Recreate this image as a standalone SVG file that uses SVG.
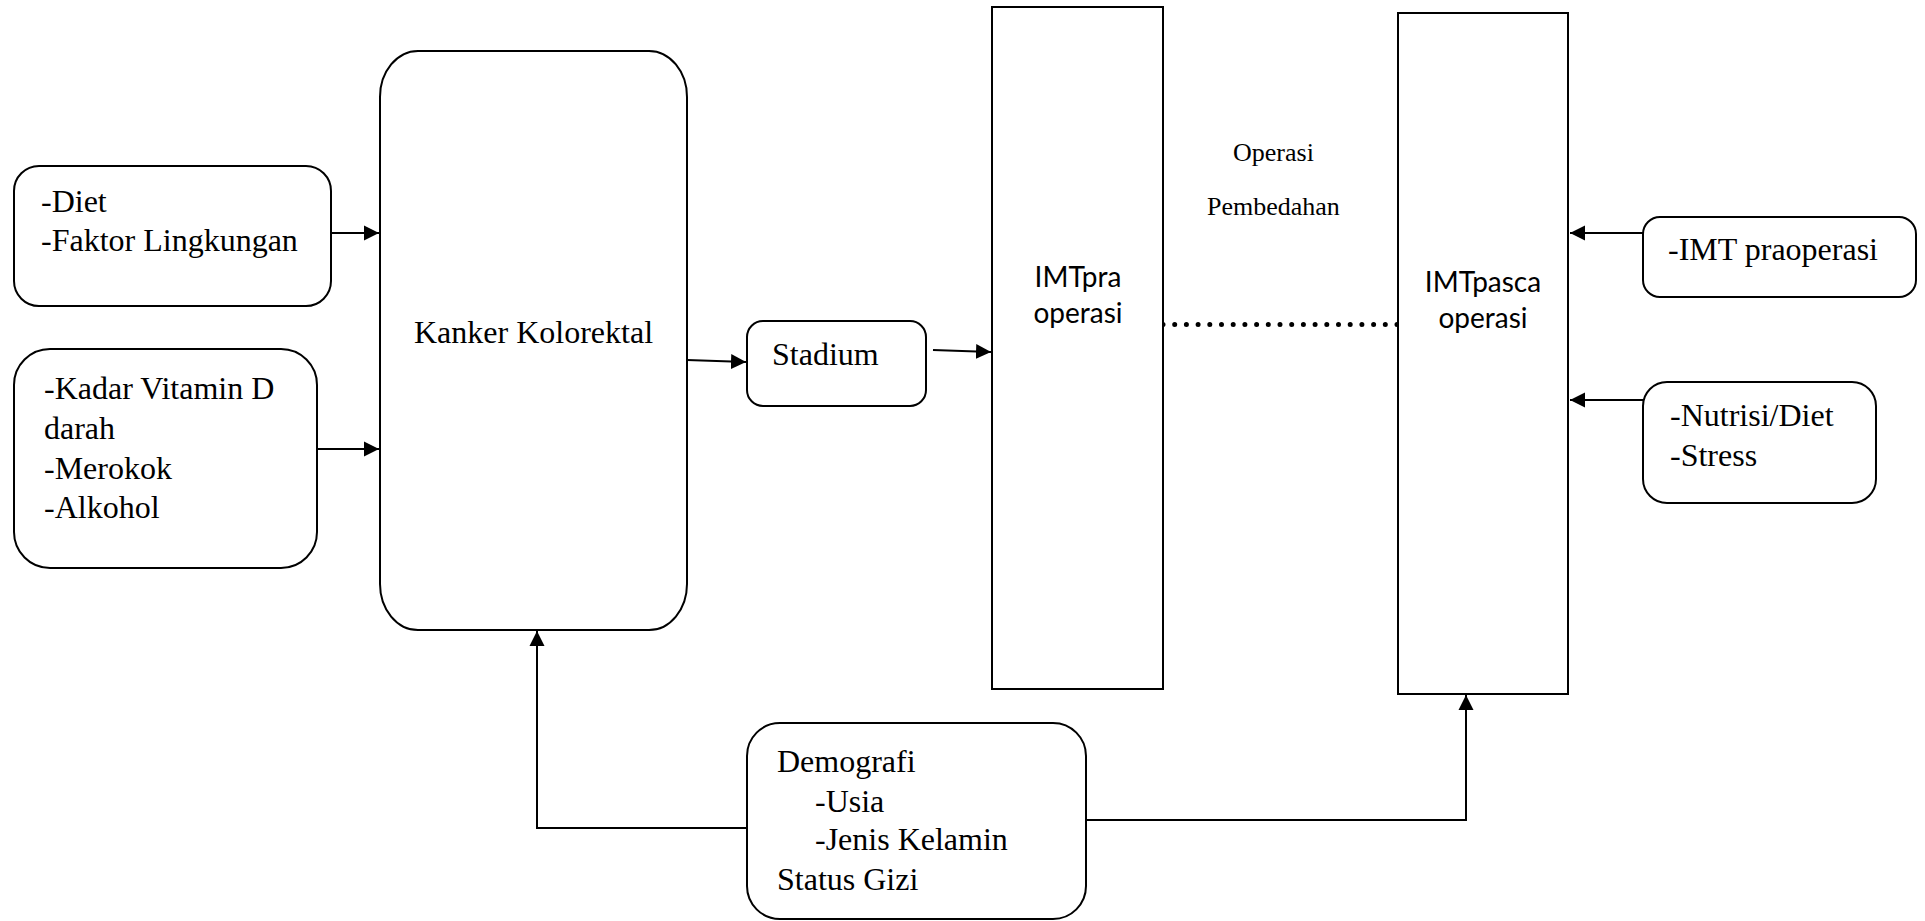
<svg xmlns="http://www.w3.org/2000/svg" width="1925" height="921" viewBox="0 0 1925 921">
<style>
.box{fill:#fff;stroke:#000;stroke-width:2}
.t{font-family:"Liberation Serif","Times New Roman",serif;font-size:32px;fill:#000}
.ts{font-family:"Liberation Serif","Times New Roman",serif;font-size:26px;fill:#000}
.tc{font-family:Lato,"Open Sans",sans-serif;font-size:28px;fill:#000;text-anchor:middle}
.c{fill:none;stroke:#000;stroke-width:2}
.dot{fill:none;stroke:#000;stroke-width:5;stroke-linecap:round;stroke-dasharray:0 11.7}
</style>
<defs>
<marker id="ah" markerUnits="userSpaceOnUse" markerWidth="16" markerHeight="16" viewBox="0 0 16 16" refX="15" refY="8" orient="auto">
<path d="M0,0.5 L15,8 L0,15.5 Z" fill="#000"/>
</marker>
</defs>
<rect width="1925" height="921" fill="#fff"/>
<g id="connectors">
<line class="c" x1="331" y1="233" x2="379" y2="233" marker-end="url(#ah)"/>
<line class="c" x1="317" y1="449" x2="379" y2="449" marker-end="url(#ah)"/>
<line class="c" x1="687" y1="360" x2="746" y2="362" marker-end="url(#ah)"/>
<line class="c" x1="933" y1="350" x2="991" y2="352" marker-end="url(#ah)"/>
<line class="dot" x1="1163" y1="324.5" x2="1397" y2="324.5"/>
<line class="c" x1="1643" y1="233" x2="1570" y2="233" marker-end="url(#ah)"/>
<line class="c" x1="1643" y1="400" x2="1570" y2="400" marker-end="url(#ah)"/>
<polyline class="c" points="747,828 537,828 537,631" marker-end="url(#ah)"/>
<polyline class="c" points="1086,820 1466,820 1466,695" marker-end="url(#ah)"/>
</g>
<g id="n-diet">
<rect class="box" x="14" y="166" width="317" height="140" rx="25"/>
<text class="t" x="41" y="212">-Diet</text>
<text class="t" x="41" y="251">-Faktor Lingkungan</text>
</g>
<g id="n-vitd">
<rect class="box" x="14" y="349" width="303" height="219" rx="36"/>
<text class="t" x="44" y="399">-Kadar Vitamin D</text>
<text class="t" x="44" y="439">darah</text>
<text class="t" x="44" y="479">-Merokok</text>
<text class="t" x="44" y="518">-Alkohol</text>
</g>
<g id="n-kanker">
<rect class="box" x="380" y="51" width="307" height="579" rx="38" ry="46"/>
<text class="t" x="414" y="343">Kanker Kolorektal</text>
</g>
<g id="n-stadium">
<rect class="box" x="747" y="321" width="179" height="85" rx="16"/>
<text class="t" x="772" y="365">Stadium</text>
</g>
<g id="n-imtpra">
<rect class="box" x="992" y="7" width="171" height="682"/>
<text class="tc" x="1078" y="287">IMTpra</text>
<text class="tc" x="1078" y="323">operasi</text>
</g>
<g id="n-operasi">
<text class="ts" x="1233" y="161">Operasi</text>
<text class="ts" x="1207" y="215">Pembedahan</text>
</g>
<g id="n-imtpasca">
<rect class="box" x="1398" y="13" width="170" height="681"/>
<text class="tc" x="1483" y="292">IMTpasca</text>
<text class="tc" x="1483" y="328">operasi</text>
</g>
<g id="n-imtpraop">
<rect class="box" x="1643" y="217" width="273" height="80" rx="17"/>
<text class="t" x="1668" y="260">-IMT praoperasi</text>
</g>
<g id="n-nutrisi">
<rect class="box" x="1643" y="382" width="233" height="121" rx="24"/>
<text class="t" x="1670" y="426">-Nutrisi/Diet</text>
<text class="t" x="1670" y="466">-Stress</text>
</g>
<g id="n-demografi">
<rect class="box" x="747" y="723" width="339" height="196" rx="33"/>
<text class="t" x="777" y="772">Demografi</text>
<text class="t" x="815" y="812">-Usia</text>
<text class="t" x="815" y="850">-Jenis Kelamin</text>
<text class="t" x="777" y="890">Status Gizi</text>
</g>
</svg>
